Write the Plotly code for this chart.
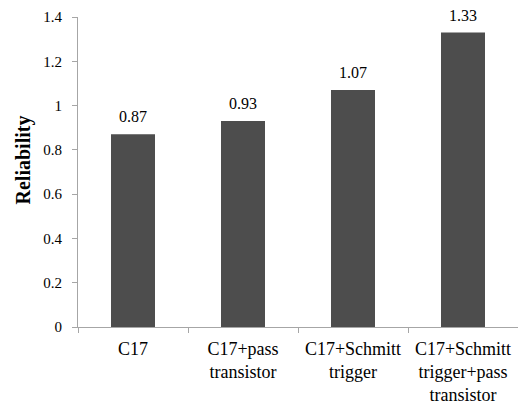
import plotly.graph_objects as go

categories = ["C17", "C17+pass<br>transistor", "C17+Schmitt<br>trigger",
              "C17+Schmitt<br>trigger+pass<br>transistor"]
reliability = [0.87, 0.93, 1.07, 1.33]
y_ticks = [0, 0.2, 0.4, 0.6, 0.8, 1.0, 1.2, 1.4]
y_tick_text = ["0", "0.2", "0.4", "0.6", "0.8", "1", "1.2", "1.4"]

serif = '"Liberation Serif", "Times New Roman", Times, serif'

fig = go.Figure(go.Bar(
    x=categories,
    y=reliability,
    width=0.4,
    marker=dict(color="#4d4d4d", line=dict(width=0)),
    cliponaxis=False,
))

# value labels sit a little above each bar
for cat, val in zip(categories, reliability):
    fig.add_annotation(
        x=cat, y=val, text=f"{val:.2f}", showarrow=False,
        yanchor="bottom", yshift=7,
        font=dict(family=serif, size=16, color="#000000"),
    )

# vertical axis title
fig.add_annotation(
    xref="paper", yref="paper", x=-0.123, y=0.54,
    text="<b>Reliability</b>", textangle=-90, showarrow=False,
    xanchor="center", yanchor="middle",
    font=dict(family=serif, size=20, color="#000000"),
)

fig.update_layout(
    width=518, height=406,
    margin=dict(l=78, r=0, t=17, b=79),
    paper_bgcolor="white", plot_bgcolor="white",
    showlegend=False,
    font=dict(family=serif, color="#000000"),
    xaxis=dict(
        showline=True, linecolor="#a6a6a6", linewidth=1,
        ticks="outside", ticklen=5, tickcolor="#a6a6a6",
        tickson="boundaries", ticklabelstandoff=5,
        tickfont=dict(family=serif, size=18, color="#000000"),
        showgrid=False, zeroline=False,
    ),
    yaxis=dict(
        range=[0, 1.4],
        tickvals=y_ticks, ticktext=y_tick_text,
        showline=True, linecolor="#a6a6a6", linewidth=1,
        ticks="outside", ticklen=5, tickcolor="#a6a6a6",
        ticklabelstandoff=7,
        tickfont=dict(family=serif, size=15, color="#000000"),
        showgrid=False, zeroline=False,
    ),
)

fig.write_html("out.html")
